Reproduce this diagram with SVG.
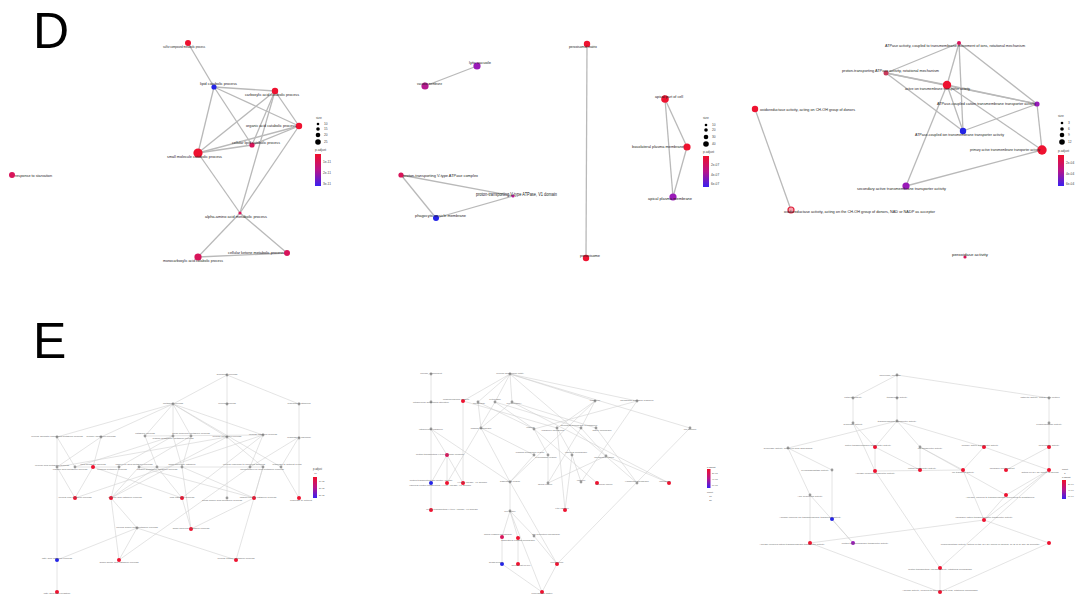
<svg xmlns="http://www.w3.org/2000/svg" width="1076" height="596" viewBox="0 0 1076 596">
<defs>
<linearGradient id="pgrad" x1="0" y1="0" x2="0" y2="1">
<stop offset="0" stop-color="#f0102a"/><stop offset="0.5" stop-color="#b8148a"/><stop offset="1" stop-color="#3a20f0"/>
</linearGradient>
<style>
text{font-family:"Liberation Sans",Arial,sans-serif;}
.let{font-size:50px;fill:#000;}
.dl{font-size:4.3px;fill:#222;}
.ds{stroke:#b9b9b9;stroke-width:1.3;fill:none;}
.es{stroke:#cdcdcd;stroke-width:0.55;fill:none;}
.el{font-size:2.5px;fill:#666;text-anchor:middle;}
.lg{font-size:3.2px;fill:#444;}
.r{fill:#ee1230;}.m{fill:#d8145a;}.p{fill:#9a1ab8;}.pm{fill:#b61a90;}.b{fill:#2424e6;}.g{fill:#9a9a9a;}
</style>
</defs>
<rect width="1076" height="596" fill="#fff"/>
<text class="let" x="33" y="48">D</text>
<text class="let" x="33" y="358">E</text>

<!-- ===== D left ===== -->
<g id="d1-connectors">
<line class="ds" x1="188" y1="43" x2="214" y2="87"/>
<line class="ds" x1="214" y1="87" x2="275" y2="91"/>
<line class="ds" x1="214" y1="87" x2="299" y2="126"/>
<line class="ds" x1="214" y1="87" x2="252" y2="145"/>
<line class="ds" x1="214" y1="87" x2="198" y2="153"/>
<line class="ds" x1="275" y1="91" x2="299" y2="126"/>
<line class="ds" x1="275" y1="91" x2="198" y2="153"/>
<line class="ds" x1="275" y1="91" x2="252" y2="145"/>
<line class="ds" x1="275" y1="91" x2="240" y2="213"/>
<line class="ds" x1="299" y1="126" x2="198" y2="153"/>
<line class="ds" x1="299" y1="126" x2="252" y2="145"/>
<line class="ds" x1="299" y1="126" x2="240" y2="213"/>
<line class="ds" x1="198" y1="153" x2="252" y2="145"/>
<line class="ds" x1="198" y1="153" x2="240" y2="213"/>
<line class="ds" x1="240" y1="213" x2="198" y2="257"/>
<line class="ds" x1="240" y1="213" x2="287" y2="253"/>
<line class="ds" x1="198" y1="257" x2="287" y2="253"/>
</g>
<g id="d1-n1"><circle class="r" cx="188" cy="43" r="3"/><text class="dl" x="163" y="48" textLength="42" lengthAdjust="spacingAndGlyphs">sulfur compound metabolic process</text></g>
<g id="d1-n2"><circle class="b" cx="214" cy="87" r="2.6"/><text class="dl" x="200" y="85" textLength="37" lengthAdjust="spacingAndGlyphs">lipid catabolic process</text></g>
<g id="d1-n3"><circle class="r" cx="275" cy="91" r="3.2"/><text class="dl" x="245" y="96" textLength="54" lengthAdjust="spacingAndGlyphs">carboxylic acid catabolic process</text></g>
<g id="d1-n4"><circle class="r" cx="299" cy="126" r="3.2"/><text class="dl" x="246" y="127" textLength="50" lengthAdjust="spacingAndGlyphs">organic acid catabolic process</text></g>
<g id="d1-n5"><circle class="m" cx="252" cy="145" r="2.6"/><text class="dl" x="232" y="144" textLength="48" lengthAdjust="spacingAndGlyphs">cellular lipid catabolic process</text></g>
<g id="d1-n6"><circle class="r" cx="198" cy="153" r="4.6"/><text class="dl" x="167" y="158" textLength="55" lengthAdjust="spacingAndGlyphs">small molecule catabolic process</text></g>
<g id="d1-n7"><circle class="m" cx="12" cy="175" r="3"/><text class="dl" x="15" y="177" textLength="37" lengthAdjust="spacingAndGlyphs">response to starvation</text></g>
<g id="d1-n8"><circle class="m" cx="240" cy="213" r="1.6"/><text class="dl" x="205" y="218" textLength="62" lengthAdjust="spacingAndGlyphs">alpha-amino acid metabolic process</text></g>
<g id="d1-n9"><circle class="m" cx="287" cy="253" r="3"/><text class="dl" x="228" y="254" textLength="56" lengthAdjust="spacingAndGlyphs">cellular ketone metabolic process</text></g>
<g id="d1-n10"><circle class="m" cx="198" cy="257" r="3.6"/><text class="dl" x="163" y="262" textLength="60" lengthAdjust="spacingAndGlyphs">monocarboxylic acid catabolic process</text></g>
<g id="d1-legend">
<text class="lg" x="316" y="119">size</text>
<circle cx="318" cy="124" r="1.3" fill="#000"/><text class="lg" x="324" y="125">10</text>
<circle cx="318" cy="129" r="1.8" fill="#000"/><text class="lg" x="324" y="130">15</text>
<circle cx="318" cy="135" r="2.3" fill="#000"/><text class="lg" x="324" y="136">20</text>
<circle cx="318" cy="142" r="2.8" fill="#000"/><text class="lg" x="324" y="143">25</text>
<text class="lg" x="315" y="151">p.adjust</text>
<rect x="315" y="154" width="6" height="32" fill="url(#pgrad)"/>
<text class="lg" x="323" y="163">1e-11</text><text class="lg" x="323" y="174">2e-11</text><text class="lg" x="323" y="185">3e-11</text>
</g>

<!-- ===== D middle ===== -->
<g id="d2-connectors">
<line class="ds" x1="477" y1="66" x2="425" y2="86"/>
<line class="ds" x1="401" y1="175" x2="513" y2="196"/>
<line class="ds" x1="401" y1="175" x2="436" y2="218"/>
<line class="ds" x1="436" y1="218" x2="513" y2="196"/>
<line class="ds" x1="587" y1="44" x2="586" y2="258"/>
<line class="ds" x1="665" y1="99" x2="687" y2="147"/>
<line class="ds" x1="665" y1="99" x2="673" y2="197"/>
<line class="ds" x1="687" y1="147" x2="673" y2="197"/>
</g>
<g id="d2-n1"><circle class="p" cx="477" cy="66" r="3.6"/><text class="dl" x="469" y="64" textLength="22" lengthAdjust="spacingAndGlyphs">lytic vacuole</text></g>
<g id="d2-n2"><circle class="pm" cx="425" cy="86" r="3.6"/><text class="dl" x="417" y="85" textLength="25" lengthAdjust="spacingAndGlyphs">vacuolar membrane</text></g>
<g id="d2-n3"><circle class="m" cx="401" cy="175" r="2.6"/><text class="dl" x="403" y="177" textLength="75" lengthAdjust="spacingAndGlyphs">proton-transporting V-type ATPase complex</text></g>
<g id="d2-n4"><circle class="pm" cx="513" cy="196" r="1.6"/><text class="dl" x="476" y="196" textLength="81" lengthAdjust="spacingAndGlyphs" style="font-size:5px">proton-transporting V-type ATPase, V1 domain</text></g>
<g id="d2-n5"><circle class="b" cx="436" cy="218" r="3"/><text class="dl" x="415" y="217" textLength="51" lengthAdjust="spacingAndGlyphs">phagocytic vesicle membrane</text></g>
<g id="d2-n6"><circle class="r" cx="587" cy="44" r="3.2"/><text class="dl" x="569" y="48" textLength="28" lengthAdjust="spacingAndGlyphs">peroxisomal matrix</text></g>
<g id="d2-n7"><circle class="r" cx="586" cy="258" r="3.2"/><text class="dl" x="580" y="257" textLength="20" lengthAdjust="spacingAndGlyphs">peroxisome</text></g>
<g id="d2-n8"><circle class="r" cx="665" cy="99" r="3.8"/><text class="dl" x="655" y="98" textLength="28" lengthAdjust="spacingAndGlyphs">apical part of cell</text></g>
<g id="d2-n9"><circle class="r" cx="687" cy="147" r="3.6"/><text class="dl" x="632" y="148" textLength="52" lengthAdjust="spacingAndGlyphs">basolateral plasma membrane</text></g>
<g id="d2-n10"><circle class="p" cx="673" cy="197" r="3.6"/><text class="dl" x="648" y="200" textLength="44" lengthAdjust="spacingAndGlyphs">apical plasma membrane</text></g>
<g id="d2-legend">
<text class="lg" x="703" y="119">size</text>
<circle cx="706" cy="125" r="1.3" fill="#000"/><text class="lg" x="712" y="126">10</text>
<circle cx="706" cy="130" r="1.8" fill="#000"/><text class="lg" x="712" y="131">20</text>
<circle cx="706" cy="137" r="2.3" fill="#000"/><text class="lg" x="712" y="138">30</text>
<circle cx="706" cy="144" r="2.8" fill="#000"/><text class="lg" x="712" y="145">40</text>
<text class="lg" x="703" y="153">p.adjust</text>
<rect x="703" y="156" width="6" height="31" fill="url(#pgrad)"/>
<text class="lg" x="711" y="166">2e-07</text><text class="lg" x="711" y="176">4e-07</text><text class="lg" x="711" y="185">6e-07</text>
</g>

<!-- ===== D right ===== -->
<g id="d3-connectors">
<line class="ds" x1="959" y1="43" x2="886" y2="73"/>
<line class="ds" x1="959" y1="43" x2="947" y2="85"/>
<line class="ds" x1="959" y1="43" x2="963" y2="131"/>
<line class="ds" x1="959" y1="43" x2="1037" y2="104"/>
<line class="ds" x1="886" y1="73" x2="947" y2="85"/>
<line class="ds" x1="886" y1="73" x2="1037" y2="104"/>
<line class="ds" x1="886" y1="73" x2="963" y2="131"/>
<line class="ds" x1="947" y1="85" x2="1037" y2="104"/>
<line class="ds" x1="947" y1="85" x2="963" y2="131"/>
<line class="ds" x1="947" y1="85" x2="1042" y2="150"/>
<line class="ds" x1="947" y1="85" x2="906" y2="186"/>
<line class="ds" x1="963" y1="131" x2="1037" y2="104"/>
<line class="ds" x1="1037" y1="104" x2="1042" y2="150"/>
<line class="ds" x1="1042" y1="150" x2="906" y2="186"/>
<line class="ds" x1="755" y1="109" x2="791" y2="210"/>
</g>
<g id="d3-n1"><circle class="m" cx="959" cy="43" r="2"/><text class="dl" x="885" y="47" textLength="140" lengthAdjust="spacingAndGlyphs">ATPase activity, coupled to transmembrane movement of ions, rotational mechanism</text></g>
<g id="d3-n2"><circle fill="#c83a5a" cx="886" cy="73" r="2.5"/><text class="dl" x="842" y="72" textLength="97" lengthAdjust="spacingAndGlyphs">proton-transporting ATPase activity, rotational mechanism</text></g>
<g id="d3-n3"><circle class="r" cx="947" cy="85" r="4.2"/><text class="dl" x="905" y="90" textLength="65" lengthAdjust="spacingAndGlyphs">active ion transmembrane transporter activity</text></g>
<g id="d3-n4"><circle class="p" cx="1037" cy="104" r="2.6"/><text class="dl" x="937" y="105" textLength="99" lengthAdjust="spacingAndGlyphs">ATPase-coupled cation transmembrane transporter activity</text></g>
<g id="d3-n5"><circle class="b" cx="963" cy="131" r="3.2"/><text class="dl" x="915" y="136" textLength="89" lengthAdjust="spacingAndGlyphs">ATPase-coupled ion transmembrane transporter activity</text></g>
<g id="d3-n6"><circle class="r" cx="1042" cy="150" r="4.7"/><text class="dl" x="970" y="151" textLength="70" lengthAdjust="spacingAndGlyphs" style="font-size:3.2px">primary active transmembrane transporter activity</text></g>
<g id="d3-n7"><circle class="p" cx="906" cy="186" r="3.6"/><text class="dl" x="857" y="190" textLength="89" lengthAdjust="spacingAndGlyphs">secondary active transmembrane transporter activity</text></g>
<g id="d3-n8"><circle class="r" cx="755" cy="109" r="3.2"/><text class="dl" x="760" y="111" textLength="95" lengthAdjust="spacingAndGlyphs">oxidoreductase activity, acting on CH-OH group of donors</text></g>
<g id="d3-n9"><circle cx="791" cy="210" r="3" fill="#f4a0ac" stroke="#e0203a" stroke-width="1.2"/><text class="dl" x="784" y="213" textLength="151" lengthAdjust="spacingAndGlyphs">oxidoreductase activity, acting on the CH-OH group of donors, NAD or NADP as acceptor</text></g>
<g id="d3-n10"><circle class="m" cx="965" cy="257" r="1.6"/><text class="dl" x="952" y="256" textLength="36" lengthAdjust="spacingAndGlyphs">peroxidase activity</text></g>
<g id="d3-legend">
<text class="lg" x="1058" y="117">size</text>
<circle cx="1062" cy="123" r="1.3" fill="#000"/><text class="lg" x="1068" y="124">3</text>
<circle cx="1062" cy="129" r="1.8" fill="#000"/><text class="lg" x="1068" y="130">6</text>
<circle cx="1062" cy="135" r="2.3" fill="#000"/><text class="lg" x="1068" y="136">9</text>
<circle cx="1062" cy="142" r="2.8" fill="#000"/><text class="lg" x="1068" y="143">12</text>
<text class="lg" x="1058" y="152">p.adjust</text>
<rect x="1058" y="155" width="6" height="31" fill="url(#pgrad)"/>
<text class="lg" x="1066" y="164">2e-04</text><text class="lg" x="1066" y="175">4e-04</text><text class="lg" x="1066" y="185">6e-04</text>
</g>

<!-- ===== E left ===== -->
<g id="e1-connectors">
<path class="es" d="M227 375L173 404M227 375L227 404M227 375L299 404M173 404L57 437M173 404L101 437M173 404L145 436M173 404L173 436M173 404L191 436M173 404L227 437M173 404L263 435M173 404L281 467M227 404L227 498M299 404L299 437M299 437L299 498M57 437L75 467M57 437L57 560M101 437L93 467M101 437L57 467M145 436L157 467M145 436L263 435M173 436L119 467M173 436L75 467M173 436L182 467M191 436L139 467M191 436L182 467M227 437L57 467M227 437L263 467M227 437L111 498M263 435L250 467M263 435L75 498M263 435L182 498M299 437L250 467M299 437L281 467M57 467L75 498M75 467L119 467M93 467L75 498M93 467L182 498M119 467L111 498M139 467L111 498M139 467L254 498M139 467L263 467M157 467L111 498M157 467L182 498M182 467L191 529M182 467L254 498M263 467L254 498M263 467L236 560M281 467L299 498M250 467L119 560M111 498L137 528M254 498L191 529M182 498L191 529M137 528L57 560M137 528L119 560M137 528L236 560M111 498L119 560M57 560L57 592"/>
</g>
<g id="e1-n1"><circle class="g" cx="227" cy="375" r="1.4"/><text class="el" x="227" y="375">biological_process</text></g>
<g id="e1-n2"><circle class="g" cx="173" cy="404" r="1.4"/><text class="el" x="173" y="404">metabolic process</text></g>
<g id="e1-n3"><circle class="g" cx="227" cy="404" r="1.4"/><text class="el" x="227" y="404">cellular process</text></g>
<g id="e1-n4"><circle class="g" cx="299" cy="404" r="1.4"/><text class="el" x="299" y="404">response to stimulus</text></g>
<g id="e1-n5"><circle class="g" cx="57" cy="437" r="1.4"/><text class="el" x="57" y="437">cellular aromatic compound metabolic process</text></g>
<g id="e1-n6"><circle class="g" cx="101" cy="437" r="1.4"/><text class="el" x="101" y="437">primary metabolic process</text></g>
<g id="e1-n7"><circle class="g" cx="145" cy="436" r="1.4"/><text class="el" x="145" y="434">catabolic process</text></g>
<g id="e1-n8"><circle class="g" cx="173" cy="436" r="1.4"/><text class="el" x="173" y="439">organic substance metabolic process</text></g>
<g id="e1-n9"><circle class="g" cx="191" cy="436" r="1.4"/><text class="el" x="191" y="434">small molecule metabolic process</text></g>
<g id="e1-n10"><circle class="g" cx="227" cy="437" r="1.4"/><text class="el" x="227" y="437">cellular metabolic process</text></g>
<g id="e1-n11"><circle class="g" cx="263" cy="435" r="1.4"/><text class="el" x="263" y="435">cellular catabolic process</text></g>
<g id="e1-n12"><circle class="g" cx="299" cy="438" r="1.4"/><text class="el" x="299" y="438">response to chemical</text></g>
<g id="e1-n13"><circle class="g" cx="57" cy="467" r="1.4"/><text class="el" x="52" y="466">cellular lipid metabolic process</text></g>
<g id="e1-n14"><circle class="g" cx="75" cy="467" r="1.4"/><text class="el" x="70" y="470">organic acid metabolic process</text></g>
<g id="e1-n15"><circle class="r" cx="93" cy="467" r="2"/><text class="el" x="93" y="465">lipid metabolic process</text></g>
<g id="e1-n16"><circle class="g" cx="119" cy="467" r="1.4"/><text class="el" x="112" y="470">oxoacid metabolic process</text></g>
<g id="e1-n17"><circle class="g" cx="139" cy="467" r="1.4"/><text class="el" x="134" y="465">carboxylic acid metabolic process</text></g>
<g id="e1-n18"><circle class="g" cx="157" cy="467" r="1.4"/><text class="el" x="157" y="470">organic substance catabolic process</text></g>
<g id="e1-n19"><circle class="g" cx="182" cy="467" r="1.4"/><text class="el" x="182" y="465">small molecule catabolic</text></g>
<g id="e1-n20"><circle class="g" cx="250" cy="467" r="1.4"/><text class="el" x="244" y="465">cellular response to chemical stimulus</text></g>
<g id="e1-n21"><circle class="g" cx="263" cy="467" r="1.4"/><text class="el" x="262" y="470">monocarboxylic acid metabolic process</text></g>
<g id="e1-n22"><circle class="g" cx="281" cy="467" r="1.4"/><text class="el" x="287" y="465">response to nutrient levels</text></g>
<g id="e1-n23"><circle class="r" cx="75" cy="498" r="2"/><text class="el" x="75" y="498">cellular lipid catabolic process</text></g>
<g id="e1-n24"><circle class="r" cx="111" cy="498" r="2"/><text class="el" x="125" y="498">organic acid catabolic process</text></g>
<g id="e1-n25"><circle class="r" cx="182" cy="498" r="2"/><text class="el" x="182" y="498">lipid catabolic process</text></g>
<g id="e1-n26"><circle class="g" cx="227" cy="498" r="1.4"/><text class="el" x="222" y="501">alpha-amino acid metabolic process</text></g>
<g id="e1-n27"><circle class="r" cx="254" cy="498" r="2"/><text class="el" x="258" y="498">carboxylic acid catabolic process</text></g>
<g id="e1-n28"><circle class="r" cx="299" cy="498" r="2"/><text class="el" x="301" y="501">response to nutrient</text></g>
<g id="e1-n29"><circle class="g" cx="137" cy="528" r="1.4"/><text class="el" x="137" y="528">cellular amino acid metabolic process</text></g>
<g id="e1-n30"><circle class="r" cx="191" cy="529" r="2"/><text class="el" x="191" y="529">small molecule catabolic process</text></g>
<g id="e1-n31"><circle class="b" cx="57" cy="560" r="2"/><text class="el" x="57" y="559">fatty acid catabolic process</text></g>
<g id="e1-n32"><circle class="r" cx="119" cy="560" r="2"/><text class="el" x="119" y="563">alpha-amino acid catabolic process</text></g>
<g id="e1-n33"><circle class="r" cx="236" cy="560" r="2"/><text class="el" x="236" y="559">cellular ketone metabolic process</text></g>
<g id="e1-n34"><circle class="r" cx="57" cy="592" r="2"/><text class="el" x="57" y="594">fatty acid beta-oxidation</text></g>
<g id="e1-legend">
<text class="lg" x="313" y="470" style="font-size:2.6px">p.adjust</text>
<text class="lg" x="313" y="474" style="font-size:2.2px">· 10</text>
<rect x="313" y="477" width="4" height="21" fill="url(#pgrad)"/>
<text class="lg" x="319" y="482" style="font-size:2.2px">1e-11</text><text class="lg" x="319" y="489" style="font-size:2.2px">2e-11</text><text class="lg" x="319" y="496" style="font-size:2.2px">3e-11</text>
</g>

<!-- ===== E middle ===== -->
<g id="e2-connectors">
<path class="es" d="M431 374L431 402M510 374L463 401M510 374L478 402M510 374L495 402M510 374L512 402M510 374L595 401M510 374L637 401M510 374L690 428M510 374L637 483M431 402L431 429M431 429L447 455M431 429L431 483M431 429L510 482M463 401L463 483M463 401L557 428M478 402L481 428M478 402L534 429M495 402L534 429M495 402L581 428M495 402L447 483M512 402L481 428M512 402L596 428M512 402L669 483M595 401L557 428M595 401L581 428M595 401L510 482M637 401L581 482M637 401L534 429M690 428L557 564M481 428L510 482M481 428L534 455M534 429L548 455M534 429L597 483M557 428L572 455M557 428L565 510M581 428L606 456M581 428L548 483M596 428L637 483M447 455L447 483M447 455L431 483M447 455L463 483M534 455L510 482M548 455L548 483M572 455L581 482M572 455L565 510M606 456L548 483M606 456L669 483M431 483L431 510M510 482L510 511M510 482L557 564M510 511L502 537M510 511L518 538M510 511L534 536M510 511L542 592M502 537L502 564M518 538L518 564M534 536L557 564M502 564L542 592M557 564L542 592"/>
</g>
<g id="e2-n1"><circle class="g" cx="431" cy="374" r="1.4"/><text class="el" x="431" y="374">cellular_component</text></g>
<g id="e2-n2"><circle class="g" cx="510" cy="374" r="1.4"/><text class="el" x="510" y="374">cellular anatomical entity</text></g>
<g id="e2-n3"><circle class="g" cx="431" cy="402" r="1.4"/><text class="el" x="431" y="403">intracellular anatomical structure</text></g>
<g id="e2-n4"><circle class="r" cx="463" cy="401" r="2"/><text class="el" x="456" y="400">endomembrane system</text></g>
<g id="e2-n5"><circle class="g" cx="478" cy="402" r="1.4"/><text class="el" x="479" y="404">membrane</text></g>
<g id="e2-n6"><circle class="g" cx="495" cy="402" r="1.4"/><text class="el" x="495" y="400">cytoplasm</text></g>
<g id="e2-n7"><circle class="g" cx="512" cy="402" r="1.4"/><text class="el" x="514" y="404">cell periphery</text></g>
<g id="e2-n8"><circle class="g" cx="595" cy="401" r="1.4"/><text class="el" x="595" y="401">organelle</text></g>
<g id="e2-n9"><circle class="g" cx="637" cy="401" r="1.4"/><text class="el" x="637" y="401">membrane-bounded organelle</text></g>
<g id="e2-n10"><circle class="g" cx="431" cy="429" r="1.4"/><text class="el" x="431" y="430">intracellular organelle</text></g>
<g id="e2-n11"><circle class="g" cx="481" cy="428" r="1.4"/><text class="el" x="481" y="429">plasma membrane</text></g>
<g id="e2-n12"><circle class="g" cx="534" cy="429" r="1.4"/><text class="el" x="530" y="428">vesicle</text></g>
<g id="e2-n13"><circle class="g" cx="557" cy="428" r="1.4"/><text class="el" x="553" y="431">organelle membrane</text></g>
<g id="e2-n14"><circle class="g" cx="581" cy="428" r="1.4"/><text class="el" x="579" y="426">bounding membrane of organelle</text></g>
<g id="e2-n15"><circle class="g" cx="596" cy="428" r="1.4"/><text class="el" x="602" y="431">whole membrane</text></g>
<g id="e2-n16"><circle class="g" cx="690" cy="428" r="1.4"/><text class="el" x="690" y="430">cell surface</text></g>
<g id="e2-n17"><circle class="m" cx="447" cy="455" r="2"/><text class="el" x="440" y="455">proton-transporting V-type ATPase complex</text></g>
<g id="e2-n18"><circle class="g" cx="534" cy="455" r="1.4"/><text class="el" x="530" y="453">plasma membrane region</text></g>
<g id="e2-n19"><circle class="g" cx="548" cy="455" r="1.4"/><text class="el" x="546" y="458">cytoplasmic vesicle</text></g>
<g id="e2-n20"><circle class="g" cx="572" cy="455" r="1.4"/><text class="el" x="576" y="453">vacuolar membrane</text></g>
<g id="e2-n21"><circle class="g" cx="606" cy="456" r="1.4"/><text class="el" x="604" y="458">membrane region</text></g>
<g id="e2-n22"><circle class="b" cx="431" cy="483" r="2"/><text class="el" x="431" y="481">proton-transporting two-sector ATPase</text></g>
<g id="e2-n23"><circle class="r" cx="447" cy="483" r="2"/><text class="el" x="440" y="486">vacuolar proton-transporting V-type ATPase, V1 domain</text></g>
<g id="e2-n24"><circle class="r" cx="463" cy="483" r="2"/><text class="el" x="472" y="483">V-type ATPase, V1 domain</text></g>
<g id="e2-n25"><circle class="g" cx="510" cy="482" r="1.4"/><text class="el" x="510" y="482">basolateral region</text></g>
<g id="e2-n26"><circle class="g" cx="548" cy="483" r="1.4"/><text class="el" x="545" y="485">apical region</text></g>
<g id="e2-n27"><circle class="g" cx="581" cy="482" r="1.4"/><text class="el" x="581" y="481">vacuole</text></g>
<g id="e2-n28"><circle class="r" cx="597" cy="483" r="2"/><text class="el" x="604" y="485">vacuolar lumen</text></g>
<g id="e2-n29"><circle class="g" cx="637" cy="483" r="1.4"/><text class="el" x="637" y="482">lysosomal membrane</text></g>
<g id="e2-n30"><circle class="r" cx="669" cy="483" r="2"/><text class="el" x="665" y="482">microbody</text></g>
<g id="e2-n31"><circle class="r" cx="431" cy="510" r="2"/><text class="el" x="452" y="510">proton-transporting V-type ATPase, V0 domain</text></g>
<g id="e2-n32"><circle class="r" cx="565" cy="510" r="2"/><text class="el" x="562" y="509">lytic vacuole</text></g>
<g id="e2-n33"><circle class="g" cx="510" cy="511" r="1.4"/><text class="el" x="510" y="512">cell cortex</text></g>
<g id="e2-n34"><circle class="m" cx="502" cy="537" r="2"/><text class="el" x="498" y="535">apical plasma membrane</text></g>
<g id="e2-n35"><circle class="r" cx="518" cy="538" r="2"/><text class="el" x="518" y="541">basolateral plasma membrane</text></g>
<g id="e2-n36"><circle class="g" cx="534" cy="536" r="1.4"/><text class="el" x="546" y="535">cell projection membrane</text></g>
<g id="e2-n37"><circle class="b" cx="502" cy="564" r="2"/><text class="el" x="496" y="563">brush border</text></g>
<g id="e2-n38"><circle class="r" cx="518" cy="564" r="2"/><text class="el" x="521" y="566">apical part of cell</text></g>
<g id="e2-n39"><circle class="r" cx="557" cy="564" r="2"/><text class="el" x="557" y="563">peroxisome</text></g>
<g id="e2-n40"><circle class="r" cx="542" cy="592" r="2"/><text class="el" x="542" y="594">peroxisomal matrix</text></g>
<g id="e2-legend">
<text class="lg" x="707" y="468" style="font-size:2.4px">p.adjust</text>
<rect x="707" y="469" width="3.5" height="19" fill="url(#pgrad)"/>
<text class="lg" x="712" y="474" style="font-size:2.2px">2e-07</text><text class="lg" x="712" y="480" style="font-size:2.2px">4e-07</text><text class="lg" x="712" y="486" style="font-size:2.2px">6e-07</text>
<text class="lg" x="707" y="493" style="font-size:2.4px">count</text>
<text class="lg" x="708" y="497" style="font-size:2.2px">· 10</text><text class="lg" x="708" y="501" style="font-size:2.2px">· 20</text>
</g>

<!-- ===== E right ===== -->
<g id="e3-connectors">
<path class="es" d="M897 375L853 398M897 375L897 398M897 375L1049 398M853 398L853 423M897 398L897 421M1049 398L1049 423M897 421L788 448M897 421L875 447M897 421L920 447M897 421L984 447M853 423L875 447M853 423L875 471M1049 423L1049 447M788 448L832 470M788 448L810 495M875 447L875 471M875 447L920 470M920 447L920 470M920 447L963 470M920 447L1006 495M984 447L963 470M984 447L1049 470M1049 447L1006 470M1049 447L1049 470M875 471L940 568M875 471L963 470M963 470L984 520M1049 470L984 520M1049 470L1006 495M1049 470L940 568M810 495L810 543M810 495L853 543M832 470L832 519M984 520L810 543M984 520L1049 543M1006 495L984 520M810 543L940 592M1049 543L940 592M940 568L940 592M832 519L853 543"/>
</g>
<g id="e3-n1"><circle class="g" cx="897" cy="375" r="1.4"/><text class="el" x="890" y="376">molecular_function</text></g>
<g id="e3-n2"><circle class="g" cx="853" cy="398" r="1.4"/><text class="el" x="853" y="398">catalytic activity</text></g>
<g id="e3-n3"><circle class="g" cx="897" cy="398" r="1.4"/><text class="el" x="897" y="398">transporter activity</text></g>
<g id="e3-n4"><circle class="g" cx="1049" cy="398" r="1.4"/><text class="el" x="1040" y="398">catalytic activity, acting on a protein</text></g>
<g id="e3-n5"><circle class="g" cx="853" cy="423" r="1.4"/><text class="el" x="853" y="425">hydrolase activity</text></g>
<g id="e3-n6"><circle class="g" cx="897" cy="421" r="1.4"/><text class="el" x="897" y="422">transmembrane transporter activity</text></g>
<g id="e3-n7"><circle class="g" cx="1049" cy="423" r="1.4"/><text class="el" x="1049" y="425">oxidoreductase activity</text></g>
<g id="e3-n8"><circle class="g" cx="788" cy="448" r="1.4"/><text class="el" x="788" y="449">hydrolase activity, acting on acid anhydrides</text></g>
<g id="e3-n9"><circle class="r" cx="875" cy="447" r="2"/><text class="el" x="868" y="446">active transmembrane transporter activity</text></g>
<g id="e3-n10"><circle class="g" cx="920" cy="447" r="1.4"/><text class="el" x="930" y="449">ion transporter activity</text></g>
<g id="e3-n11"><circle class="r" cx="984" cy="447" r="2"/><text class="el" x="980" y="446">primary active transporter activity</text></g>
<g id="e3-n12"><circle class="r" cx="1049" cy="447" r="2"/><text class="el" x="1049" y="446">peroxidase activity</text></g>
<g id="e3-n13"><circle class="g" cx="832" cy="470" r="1.4"/><text class="el" x="815" y="471">pyrophosphatase activity</text></g>
<g id="e3-n14"><circle class="r" cx="875" cy="471" r="2"/><text class="el" x="875" y="474">ATPase-coupled transporter activity</text></g>
<g id="e3-n15"><circle class="r" cx="920" cy="470" r="2"/><text class="el" x="922" y="469">cation transporter activity</text></g>
<g id="e3-n16"><circle class="r" cx="963" cy="470" r="2"/><text class="el" x="963" y="473">ion transport activity</text></g>
<g id="e3-n17"><circle class="r" cx="1006" cy="470" r="2"/><text class="el" x="1002" y="469">inorganic ion transport</text></g>
<g id="e3-n18"><circle class="r" cx="1049" cy="470" r="2"/><text class="el" x="1040" y="473">acting on CH-OH group of donors</text></g>
<g id="e3-n19"><circle class="g" cx="810" cy="495" r="1.4"/><text class="el" x="810" y="497">ATP hydrolysis activity</text></g>
<g id="e3-n20"><circle class="r" cx="1006" cy="495" r="2"/><text class="el" x="1000" y="498">ATPase, coupled to transmembrane movement of substances</text></g>
<g id="e3-n21"><circle class="b" cx="832" cy="519" r="2"/><text class="el" x="810" y="518">ATPase-coupled ion transmembrane transporter activity</text></g>
<g id="e3-n22"><circle class="r" cx="984" cy="520" r="2"/><text class="el" x="984" y="518">inorganic cation transmembrane transporter activity</text></g>
<g id="e3-n23"><circle class="r" cx="810" cy="543" r="2"/><text class="el" x="792" y="545">ATPase-coupled cation transmembrane transporter activity</text></g>
<g id="e3-n24"><circle class="p" cx="853" cy="543" r="2"/><text class="el" x="865" y="544">proton transmembrane transporter activity</text></g>
<g id="e3-n25"><circle class="r" cx="1049" cy="543" r="2"/><text class="el" x="990" y="545">oxidoreductase activity, acting on the CH-OH group of donors, NAD or NADP as acceptor</text></g>
<g id="e3-n26"><circle class="r" cx="940" cy="568" r="2"/><text class="el" x="940" y="570">proton-transporting ATPase activity, rotational mechanism</text></g>
<g id="e3-n27"><circle class="r" cx="940" cy="592" r="2"/><text class="el" x="940" y="591">ATPase activity, coupled to movement of ions, rotational mechanism</text></g>
<g id="e3-legend">
<text class="lg" x="1062" y="470" style="font-size:2.4px">count</text>
<text class="lg" x="1063" y="474" style="font-size:2.2px">· 5</text>
<text class="lg" x="1062" y="478" style="font-size:2.4px">p.adjust</text>
<rect x="1062" y="480" width="4" height="19" fill="url(#pgrad)"/>
<text class="lg" x="1068" y="485" style="font-size:2.2px">2e-04</text><text class="lg" x="1068" y="491" style="font-size:2.2px">4e-04</text><text class="lg" x="1068" y="497" style="font-size:2.2px">6e-04</text>
</g>
</svg>
